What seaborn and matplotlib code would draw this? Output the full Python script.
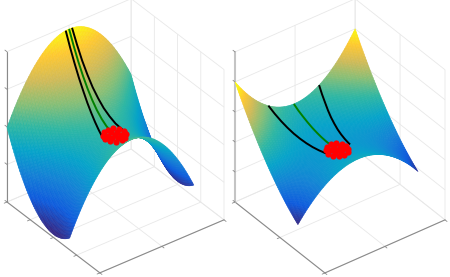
import numpy as np
import matplotlib
matplotlib.use("Agg")
import matplotlib.pyplot as plt
from mpl_toolkits.mplot3d import proj3d
import seaborn as sns

sns.set_style("white")

W, H = 450, 277

# curve along x, left surface (x from -1 to .35 in steps of .025)
left_bend_x = [1, .9506, .9025, .8556, .81, .7656, .7225, .6806, .64, .6006, .5625, .5256, .49, .4556, .4225, .3906,
               .36, .3306, .3025, .2756, .25, .2256, .2025, .1806, .16, .1406, .1225, .1056, .09, .0756, .0625, .0506,
               .04, .0306, .0225, .0156, .01, .0056, .0025, .0006, 0, .0006, .0025, .0056, .01, .0156, .0225, .0306,
               .04, .0506, .0625, .0756, .09, .1056, .1225]
# curve along y, both surfaces (y from -1 to 1 in steps of .025)
bend_y = [1, .9506, .9025, .8556, .81, .7656, .7225, .6806, .64, .6006, .5625, .5256, .49, .4556, .4225, .3906,
          .36, .3306, .3025, .2756, .25, .2256, .2025, .1806, .16, .1406, .1225, .1056, .09, .0756, .0625, .0506,
          .04, .0306, .0225, .0156, .01, .0056, .0025, .0006, 0, .0006, .0025, .0056, .01, .0156, .0225, .0306,
          .04, .0506, .0625, .0756, .09, .1056, .1225, .1406, .16, .1806, .2025, .2256, .25, .2756, .3025, .3306,
          .36, .3906, .4225, .4556, .49, .5256, .5625, .6006, .64, .6806, .7225, .7656, .81, .8556, .9025, .9506, 1]
left_rise = .95
left_drop = .96

# right surface: height at y=0 and how far the y edges bend from it (x from -1 to .4 in steps of .025)
right_mid = [.2, .187, .174, .161, .149, .137, .126, .115, .104, .094, .084, .075, .066, .058, .05, .042, .035, .029,
             .023, .017, .011, .006, .002, -.002, -.006, -.009, -.012, -.015, -.017, -.018, -.019, -.02, -.02, -.02,
             -.02, -.019, -.017, -.015, -.013, -.01, -.008, -.004, 0, .004, .009, .014, .02, .026, .033, .04, .047,
             .055, .063, .072, .081, .09, .1]
right_bow = [.8, .774, .748, .722, .696, .67, .645, .619, .593, .567, .541, .515, .489, .463, .437, .411, .386, .36,
             .334, .308, .282, .256, .23, .204, .178, .152, .127, .101, .075, .049, .023, -.003, -.029, -.055, -.08,
             -.106, -.132, -.158, -.184, -.21, -.236, -.262, -.288, -.314, -.34, -.366, -.391, -.417, -.443, -.469,
             -.495, -.521, -.547, -.573, -.598, -.624, -.65]

# paths, left
lp_x = [-1, -.9, -.8, -.7, -.6, -.5, -.4, -.3, -.2, -.1, -.02]
lb1_y = [-.054, -.057, -.06, -.065, -.07, -.08, -.09, -.104, -.12, -.14, -.16]
lb1_z = [.947, .767, .605, .462, .337, .232, .144, .076, .024, -.009, -.025]
lb2_y = [.048, .054, .06, .07, .08, .095, .11, .13, .15, .175, .2]
lb2_z = [.948, .767, .605, .461, .336, .229, .14, .07, .016, -.019, -.038]
lg_y = [0, 0, 0, 0, 0, 0, 0, 0, 0, 0, 0]
lg_z = [.95, .77, .608, .466, .342, .238, .152, .086, .038, .01, 0]

# paths, right
rp_x = [-1, -.9, -.8, -.7, -.6, -.5, -.4, -.3, -.2, -.1, -.06]
rb1_y = [-.444, -.412, -.38, -.35, -.32, -.29, -.26, -.23, -.2, -.17, -.15]
rb1_z = [.358, .267, .189, .126, .074, .035, .006, -.013, -.021, -.021, -.018]
rb2_y = [.4, .374, .35, .324, .3, .28, .26, .244, .23, .216, .212]
rb2_z = [.328, .246, .177, .117, .07, .033, .006, -.012, -.022, -.023, -.022]
rg_y = [-.02, -.02, -.016, -.014, -.012, -.01, -.008, -.006, -.004, -.002, 0]
rg_z = [.2, .149, .104, .066, .035, .011, -.006, -.017, -.02, -.017, -.014]

# red end points around the saddle
red_dx = [0, .08, .04, -.04, -.08, -.04, .04, .15, .13, .075, 0, -.075, -.13, -.15, -.13, -.075, 0, .075, .13]
red_dy = [0, 0, .07, .07, 0, -.07, -.07, 0, .075, .13, .15, .13, .075, 0, -.075, -.13, -.15, -.13, -.075]

parula = sns.blend_palette(["#352a87", "#0f5cdd", "#1481d6", "#06a4ca", "#2eb7a4", "#87bf77", "#d1bb59", "#fec832",
                            "#f9fb0e"], n_colors=256, as_cmap=True)

fig = plt.figure(figsize=(W / 100, H / 100), dpi=100, facecolor="white")

AXIS_GREY = "#8a8a8a"
TICK = .045


def make_axes(elev, aspect, zlim, xticks, yticks, zticks, zcolor, zwidth):
    ax = fig.add_axes([0, 0, .5, .5], projection="3d", proj_type="ortho", computed_zorder=False)
    ax.view_init(elev=elev, azim=-36.8)
    ax.set_box_aspect(aspect)
    ax.set_xlim(-1, 1, view_margin=0)
    ax.set_ylim(-1, 1, view_margin=0)
    ax.set_zlim(zlim[0], zlim[1], view_margin=0)
    ax.set_xticks(xticks)
    ax.set_yticks(yticks)
    ax.set_zticks(zticks)
    ax.set_xticklabels([])
    ax.set_yticklabels([])
    ax.set_zticklabels([])
    ax.patch.set_alpha(0)
    for axis in (ax.xaxis, ax.yaxis, ax.zaxis):
        axis.set_pane_color((1, 1, 1, 0))
        axis.pane.set_edgecolor("#e2e2e2")
        axis.pane.set_linewidth(.6)
        axis.line.set_color(AXIS_GREY)
        axis.line.set_linewidth(.8)
        axis._axinfo["grid"].update(color="#e8e8e8", linewidth=.6)
        axis._axinfo["tick"].update(inward_factor=0, outward_factor=0)
    ax.zaxis.line.set_visible(False)
    ax.plot([-1, -1], [-1, -1], list(zlim), color=zcolor, lw=zwidth, zorder=0)
    tick_style = dict(color=AXIS_GREY, lw=.6, zorder=0)
    z0 = zlim[0]
    for t in xticks:
        ax.plot([t, t], [-1, -1 - TICK], [z0, z0], **tick_style)
    for t in yticks:
        ax.plot([1, 1 + TICK], [t, t], [z0, z0], **tick_style)
    for t in zticks:
        ax.plot([-1, -1 - TICK], [-1, -1], [t, t], **tick_style)
    return ax


def fit(ax, left_px, right_px, zlim):
    """Place the axes so the floor corners land on the wanted pixels."""
    side = 300.0
    def corner_px(x, y, z):
        X, Y, _ = proj3d.proj_transform(x, y, z, ax.get_proj())
        return ax.transData.transform((X, Y))
    ax.set_position([0, 0, side / W, side / H])
    fig.canvas.draw()
    a = corner_px(-1, -1, zlim[0])
    b = corner_px(1, 1, zlim[0])
    scale = (right_px[0] - left_px[0]) / (b[0] - a[0])
    new = side * scale
    ax.set_position([(left_px[0] - a[0] * scale) / W,
                     ((H - left_px[1]) - a[1] * scale) / H,
                     new / W, new / H])


def surface(ax, z, xs, vmin, vmax):
    X, Y = np.meshgrid(xs, np.linspace(-1, 1, len(bend_y)), indexing="ij")
    colors = parula((z - vmin) / (vmax - vmin))
    ax.plot_surface(X, Y, z, rstride=1, cstride=1, facecolors=colors,
                    linewidth=.4, antialiased=True, shade=False, zorder=1)


def path(ax, x, y, z, color):
    ax.plot(x, y, z, color=color, lw=1.4, zorder=2, solid_capstyle="butt")


# left panel
zl = (-1, 1)
ax1 = make_axes(34.8, (155, 155, 183), zl, [-1, -.5, 0, .5, 1], [-1, 0, 1], [-1, -.5, 0, .5, 1], AXIS_GREY, .8)
surface(ax1, np.add.outer(left_rise * np.array(left_bend_x), -left_drop * np.array(bend_y)),
        np.linspace(-1, .35, len(left_bend_x)), -.96, 1.0)
path(ax1, lp_x, lb1_y, lb1_z, "black")
path(ax1, lp_x, lb2_y, lb2_z, "black")
path(ax1, lp_x, lg_y, lg_z, "green")
ax1.scatter(-.02 + np.array(red_dx), red_dy, 0, color="red", s=20, linewidths=0, depthshade=False, zorder=3)
fit(ax1, (7, 202), (224, 220), zl)

# right panel
zr = (-1, 1.5)
ax2 = make_axes(36.2, (150, 150, 186), zr, [-1, 0, 1], [-1, 0, 1], [-1, -.5, 0, .5, 1, 1.5], "#c4c4c4", 1.5)
surface(ax2, np.array(right_mid)[:, None] + np.outer(right_bow, bend_y),
        np.linspace(-1, .4, len(right_mid)), -.55, 1.0)
path(ax2, rp_x, rb1_y, rb1_z, "black")
path(ax2, rp_x, rb2_y, rb2_z, "black")
path(ax2, rp_x, rg_y, rg_z, "green")
ax2.scatter(-.06 + np.array(red_dx), red_dy, -.015, color="red", s=20, linewidths=0, depthshade=False, zorder=3)
fit(ax2, (235, 202), (445, 220), zr)

fig.savefig("out.png", dpi=100)
